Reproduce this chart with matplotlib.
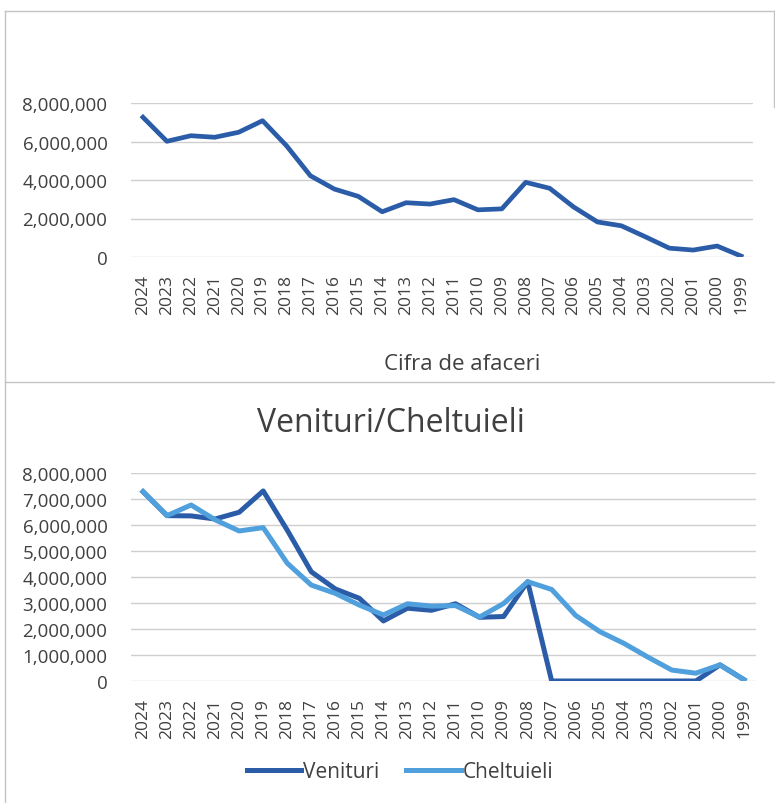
import numpy as np
import matplotlib
matplotlib.use("Agg")
import matplotlib.pyplot as plt
from matplotlib.lines import Line2D
from matplotlib.ticker import FuncFormatter

# years shown left to right (newest first, as in the source)
years = [str(y) for y in range(2024, 1998, -1)]

# turnover (top chart)
cifra = [7260000, 6010000, 6300000, 6220000, 6480000, 7080000, 5780000, 4220000,
         3530000, 3150000, 2350000, 2820000, 2750000, 2980000, 2450000, 2500000,
         3880000, 3570000, 2600000, 1820000, 1620000, 1050000, 460000, 360000,
         570000, 50000]

# revenue / expenses (bottom chart)
venituri = [7280000, 6360000, 6350000, 6230000, 6490000, 7310000, 5800000, 4200000,
            3540000, 3180000, 2310000, 2800000, 2720000, 2970000, 2450000, 2480000,
            3820000, 0, 0, 0, 0, 0, 0, 0, 620000, 50000]
cheltuieli = [7280000, 6360000, 6770000, 6200000, 5770000, 5900000, 4530000, 3690000,
              3370000, 2920000, 2540000, 2970000, 2880000, 2900000, 2460000, 2980000,
              3820000, 3520000, 2520000, 1900000, 1450000, 920000, 420000, 300000,
              620000, 50000]

dark = "#2b5ca8"
light = "#4fa0dc"
txt = "#404040"
grid = "#cfcfcf"
font = "Open Sans"

W, H = 775, 804
fig = plt.figure(figsize=(W / 100, H / 100), dpi=100)

def box(l, t, r, b):
    # pixel box -> figure fraction
    return [l / W, 1 - b / H, (r - l) / W, (b - t) / H]

def style(ax, yticks):
    x = np.arange(len(years))
    ax.set_xlim(-0.5, len(years) - 0.5)
    ax.set_ylim(0, 8000000)
    ax.set_yticks(yticks)
    ax.yaxis.set_major_formatter(FuncFormatter(lambda v, p: f"{int(v):,}"))
    ax.set_xticks(x)
    ax.set_xticklabels(years, rotation=90, family=font, fontsize=12.5, color=txt)
    for lab in ax.get_yticklabels():
        lab.set_family(font)
        lab.set_fontsize(13.5)
        lab.set_color(txt)
    ax.tick_params(axis="y", length=0, pad=17)
    ax.tick_params(axis="x", length=0, pad=12)
    for s in ax.spines.values():
        s.set_visible(False)
    ax.grid(axis="y", color=grid, linewidth=1)
    ax.set_axisbelow(True)
    return x

# top chart
ax1 = fig.add_axes(box(131, 104, 753, 258))
x = style(ax1, np.arange(0, 8000001, 2000000))
ax1.plot(x, cifra, color=dark, linewidth=3.4, solid_joinstyle="round")
fig.text(462 / W, 1 - 365 / H, "Cifra de afaceri", ha="center", va="center",
         family=font, fontsize=16, color=txt)

# bottom chart
ax2 = fig.add_axes(box(131, 474, 756, 682))
x = style(ax2, np.arange(0, 8000001, 1000000))
ax2.plot(x, venituri, color=dark, linewidth=3.6, solid_joinstyle="round", label="Venituri")
ax2.plot(x, cheltuieli, color=light, linewidth=3.6, solid_joinstyle="round", label="Cheltuieli")
fig.text(391 / W, 1 - 424 / H, "Venituri/Cheltuieli", ha="center", va="center",
         family=font, fontsize=23, color=txt)

leg = fig.legend(loc="center", bbox_to_anchor=(400 / W, 1 - 773 / H), ncol=2,
                 frameon=False, handlelength=2.6, handletextpad=0.1,
                 columnspacing=1.3, prop={"family": font, "size": 15})
for t in leg.get_texts():
    t.set_color(txt)

# scanned frame lines
fc = "#c4c4c4"
fig.add_artist(Line2D([5 / W, 1], [1 - 12 / H] * 2, color=fc, linewidth=1))
fig.add_artist(Line2D([5 / W] * 2, [0, 1 - 12 / H], color=fc, linewidth=1))
fig.add_artist(Line2D([5 / W, 1], [1 - 383 / H] * 2, color=fc, linewidth=1))
fig.add_artist(Line2D([774 / W] * 2, [1 - 108 / H, 1 - 12 / H], color=fc, linewidth=1))

fig.savefig("out.png", dpi=100)
